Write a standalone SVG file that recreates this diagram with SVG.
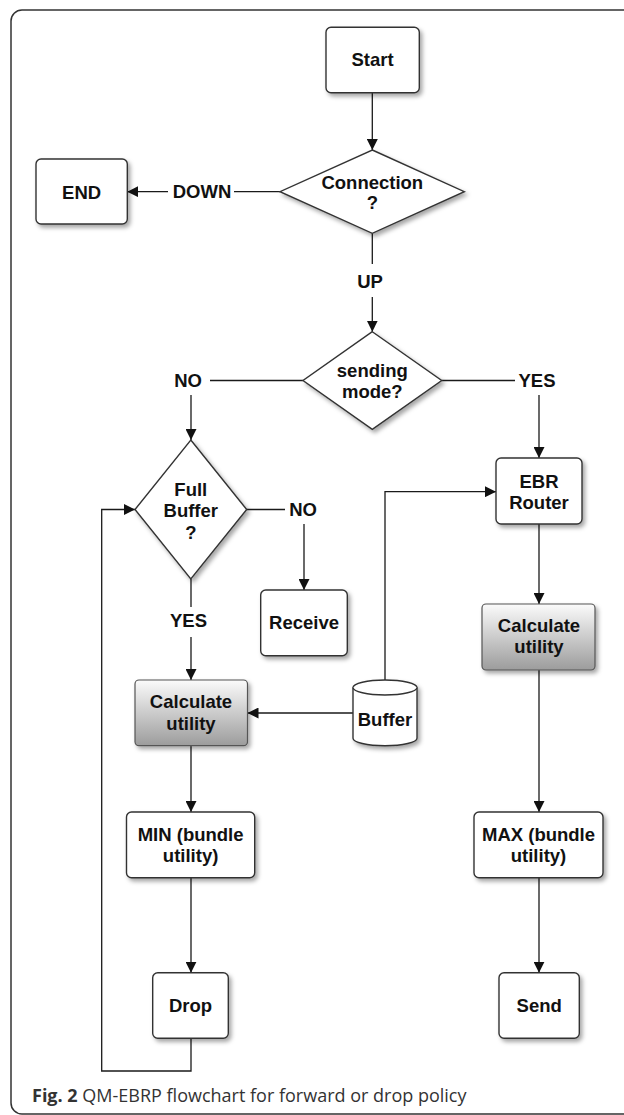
<svg xmlns="http://www.w3.org/2000/svg" width="624" height="1115" viewBox="0 0 624 1115">
<style>
.node{fill:#fff;stroke:#333;stroke-width:1.4}
.grad{fill:url(#g);stroke:#555;stroke-width:1.2}
.sh{filter:url(#ds)}
.t{font-family:"Liberation Sans",Arial,sans-serif;font-weight:bold;font-size:18.5px;fill:#111;text-anchor:middle}
.c{fill:none;stroke:#1a1a1a;stroke-width:1.3}
.a{marker-end:url(#arr)}
.cap{font-family:"Open Sans","Noto Sans",sans-serif;font-size:18px;fill:#333}
</style>
<defs>
<marker id="arr" viewBox="0 0 10 10" refX="10" refY="5" markerWidth="11" markerHeight="11" markerUnits="userSpaceOnUse" orient="auto">
<path d="M0,0 L10,5 L0,10 z" fill="#111"/>
</marker>
<linearGradient id="g" x1="0" y1="0" x2="0" y2="1">
<stop offset="0" stop-color="#fbfbfb"/>
<stop offset="1" stop-color="#9c9c9c"/>
</linearGradient>
<filter id="ds" x="-20%" y="-20%" width="150%" height="150%">
<feDropShadow dx="2.5" dy="3" stdDeviation="2.2" flood-color="#000" flood-opacity="0.35"/>
</filter>
</defs>
<rect x="11" y="10" width="650" height="1104" rx="11" fill="#fff" stroke="#333" stroke-width="1.5"/>

<g id="connectors">
<path class="c a" d="M372.3,92.7 V150"/>
<path class="c" d="M280,191.7 H234"/>
<path class="c a" d="M168,191.7 H127.3"/>
<text class="t" x="202" y="198.3">DOWN</text>
<path class="c" d="M372.3,233.3 V264"/>
<path class="c a" d="M372.3,297 V331.7"/>
<text class="t" x="370" y="288">UP</text>
<path class="c" d="M303,380.5 H210"/>
<text class="t" x="188" y="386.8">NO</text>
<path class="c a" d="M191,395 V440"/>
<path class="c" d="M441.7,380.5 H515"/>
<text class="t" x="537" y="386.8">YES</text>
<path class="c a" d="M539,395 V458"/>
<path class="c" d="M246.7,509.5 H285"/>
<text class="t" x="303" y="515.5">NO</text>
<path class="c a" d="M304,524 V590"/>
<path class="c" d="M191,579 V607"/>
<text class="t" x="188.5" y="627.3">YES</text>
<path class="c a" d="M191,637 V680"/>
<path class="c a" d="M353,713 H247.5"/>
<path class="c a" d="M385,680 V491.7 H496"/>
<path class="c a" d="M539,524 V604"/>
<path class="c a" d="M539,670 V812"/>
<path class="c a" d="M191,746 V812"/>
<path class="c a" d="M191,878 V972.7"/>
<path class="c a" d="M539,878 V972.7"/>
<path class="c a" d="M191,1038.3 V1071 H101.7 V509.5 H135"/>
</g>

<g id="start">
<rect class="node sh" x="326" y="27.3" width="93.3" height="65.4" rx="5"/>
<text class="t" x="372.5" y="66.3">Start</text>
</g>
<g id="connection">
<polygon class="node sh" points="372.3,150 464.3,191.7 372.3,233.3 280,191.7"/>
<text class="t" x="372.3" y="188.6">Connection</text>
<text class="t" x="372.3" y="208.6">?</text>
</g>
<g id="end">
<rect class="node sh" x="36" y="159" width="91.3" height="65" rx="5"/>
<text class="t" x="81.6" y="198.6">END</text>
</g>
<g id="sending">
<polygon class="node sh" points="372.3,331.7 441.7,380.5 372.3,429.3 303,380.5"/>
<text class="t" x="372.3" y="377">sending</text>
<text class="t" x="372.3" y="398">mode?</text>
</g>
<g id="fullbuffer">
<polygon class="node sh" points="190.8,440 246.7,509.5 190.8,579 135,509.5"/>
<text class="t" x="190.8" y="496.3">Full</text>
<text class="t" x="190.8" y="517.3">Buffer</text>
<text class="t" x="190.8" y="539">?</text>
</g>
<g id="receive">
<rect class="node sh" x="260.7" y="590" width="86.6" height="65.7" rx="5"/>
<text class="t" x="304" y="629">Receive</text>
</g>
<g id="ebr">
<rect class="node sh" x="496" y="458" width="86" height="66" rx="5"/>
<text class="t" x="539" y="488">EBR</text>
<text class="t" x="539" y="509">Router</text>
</g>
<g id="calc-left">
<rect class="grad sh" x="135" y="680" width="112.5" height="65.7" rx="4"/>
<text class="t" x="191" y="708.3">Calculate</text>
<text class="t" x="191" y="730.3">utility</text>
</g>
<g id="buffer">
<path class="node sh" d="M353,687.5 A32,7.5 0 0 1 417,687.5 V738.2 A32,7.5 0 0 1 353,738.2 Z"/>
<path class="node" d="M353,687.5 A32,7.5 0 0 0 417,687.5" fill="none"/>
<text class="t" x="385" y="726.3">Buffer</text>
</g>
<g id="calc-right">
<rect class="grad sh" x="482" y="604" width="113" height="66" rx="4"/>
<text class="t" x="539" y="632">Calculate</text>
<text class="t" x="539" y="653">utility</text>
</g>
<g id="min">
<rect class="node sh" x="126.5" y="812" width="128.2" height="65.7" rx="5"/>
<text class="t" x="190.6" y="841.3">MIN (bundle</text>
<text class="t" x="190.6" y="862.3">utility)</text>
</g>
<g id="max">
<rect class="node sh" x="474" y="812" width="129" height="65.7" rx="5"/>
<text class="t" x="538.5" y="841.3">MAX (bundle</text>
<text class="t" x="538.5" y="862.3">utility)</text>
</g>
<g id="drop">
<rect class="node sh" x="152.7" y="972.7" width="75.6" height="65.6" rx="5"/>
<text class="t" x="190.5" y="1012">Drop</text>
</g>
<g id="send">
<rect class="node sh" x="499" y="972.7" width="80.3" height="65.6" rx="5"/>
<text class="t" x="539.2" y="1012">Send</text>
</g>

<text class="cap" x="32" y="1102"><tspan font-weight="bold">Fig. 2</tspan> QM-EBRP flowchart for forward or drop policy</text>
</svg>
